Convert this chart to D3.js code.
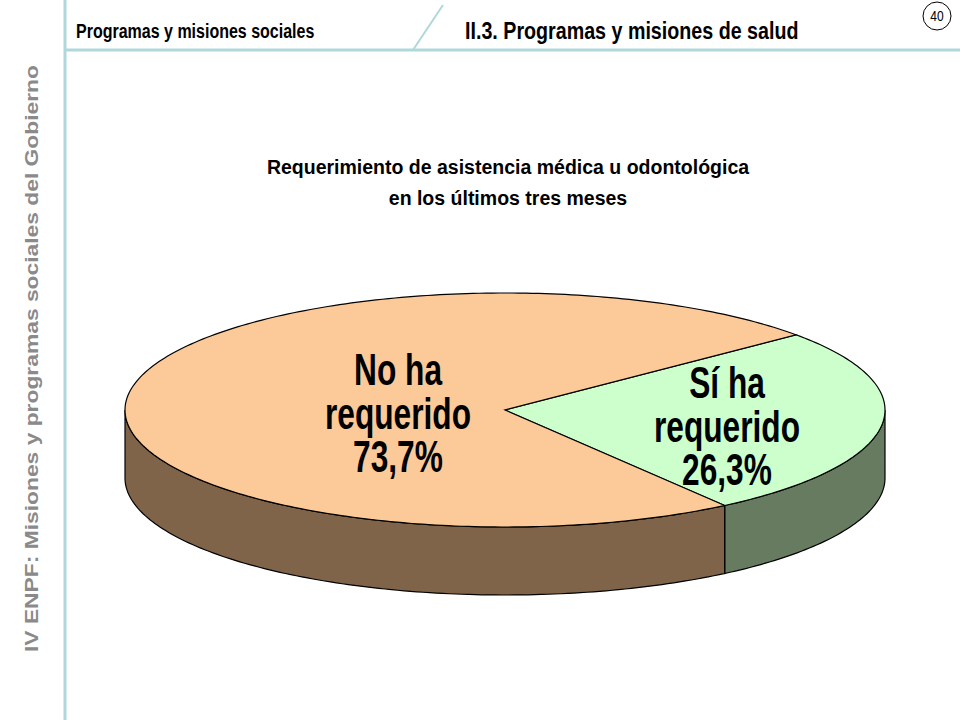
<!DOCTYPE html><html><head><meta charset="utf-8"><script src="https://cdn.jsdelivr.net/npm/d3@7"></script>
<style>body{margin:0;background:#fff}</style></head><body><svg id="c" width="960" height="720"></svg>
<script>
const categories=["Sí ha requerido","No ha requerido"];
const values=[26.3,73.7];
const labelLines=[["Sí ha","requerido","26,3%"],["No ha","requerido","73,7%"]];
const topColors=["#ccffcc","#fcc999"];
const sideColors=["#667b60","#7f6449"];
const svg=d3.select("#c");
function narrow(x,y,sx,size,txt,anchor){
  return svg.append("text").attr("transform",`translate(${x},${y}) scale(${sx},1)`).attr("text-anchor",anchor||"start")
   .attr("font-family","Liberation Sans, Arial, sans-serif").attr("font-weight","bold").attr("font-size",size).text(txt);
}
// frame
svg.append("line").attr("x1",65).attr("y1",0).attr("x2",65).attr("y2",720).attr("stroke","#b0d8dc").attr("stroke-width",3);
svg.append("line").attr("x1",65).attr("y1",50).attr("x2",960).attr("y2",50).attr("stroke","#b0d8dc").attr("stroke-width",3);
svg.append("line").attr("x1",443).attr("y1",5).attr("x2",413).attr("y2",50).attr("stroke","#b0d8dc").attr("stroke-width",2);
narrow(76,38,0.8,20,"Programas y misiones sociales");
narrow(465,39,0.82,24,"II.3. Programas y misiones de salud");
svg.append("ellipse").attr("cx",937).attr("cy",16).attr("rx",14).attr("ry",14).attr("fill","#fff").attr("stroke","#000");
narrow(937,21,0.8,15,"40","middle").attr("font-weight","normal");
svg.append("text").attr("transform","translate(38,652) rotate(-90)").attr("font-family","Liberation Sans, Arial, sans-serif").attr("font-weight","bold").attr("font-size",19).attr("fill","#8a8a8a").attr("textLength",587).attr("lengthAdjust","spacingAndGlyphs").text("IV ENPF:  Misiones y programas sociales del Gobierno");
// title
const title=["Requerimiento de asistencia médica u odontológica","en los últimos tres meses"];
title.forEach((t,i)=>svg.append("text").attr("x",508).attr("y",174+i*31).attr("text-anchor","middle").attr("font-family","Liberation Sans, Arial, sans-serif").attr("font-weight","bold").attr("font-size",19.5).text(t));
// 3D pie
const cx=505,cy=410,rx=380,ry=117,depth=68,start=-40;
const total=d3.sum(values);
const ang=d3.scaleLinear().domain([0,total]).range([start,start+360]);
let acc=0;
const slices=values.map((v,i)=>{const s={i,a0:ang(acc),a1:ang(acc+v)};acc+=v;return s;});
const rad=d=>d*Math.PI/180;
const P=(t,dy=0)=>[cx+rx*Math.cos(rad(t)),cy+ry*Math.sin(rad(t))+dy];
function arcPts(a0,a1,dy){const n=Math.max(2,Math.ceil(Math.abs(a1-a0)));return d3.range(n+1).map(k=>P(a0+(a1-a0)*k/n,dy));}
slices.forEach(s=>{
  [[0,180],[360,540]].forEach(([lo,hi])=>{
    const a0=Math.max(s.a0,lo),a1=Math.min(s.a1,hi);
    if(a1>a0){
      const pts=arcPts(a0,a1,0).concat(arcPts(a1,a0,depth));
      svg.append("path").attr("d",d3.line()(pts)+"Z").attr("fill",sideColors[s.i]).attr("stroke","#000").attr("stroke-width",1.2);
    }
  });
});
slices.forEach(s=>{
  const pts=[[cx,cy]].concat(arcPts(s.a0,s.a1,0));
  svg.append("path").attr("d",d3.line()(pts)+"Z").attr("fill",topColors[s.i]).attr("stroke","#000").attr("stroke-width",1.2);
});
const labelPos=[[727,398],[398,385]];
slices.forEach(s=>{
  labelLines[s.i].forEach((t,k)=>narrow(labelPos[s.i][0],labelPos[s.i][1]+k*43.5,0.72,44,t,"middle"));
});
</script></body></html>
